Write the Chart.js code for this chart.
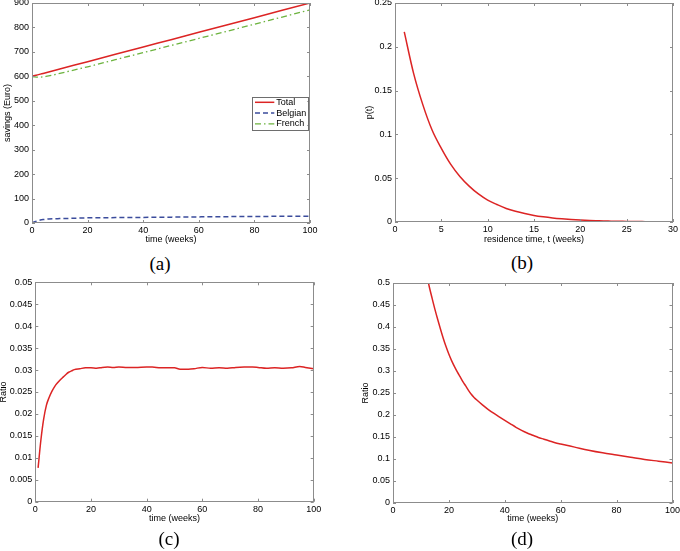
<!DOCTYPE html>
<html>
<head>
<meta charset="utf-8">
<script src="https://cdn.jsdelivr.net/npm/chart.js@4.4.1/dist/chart.umd.min.js"></script>
<style>
  html, body { margin:0; padding:0; background:#fff; width:680px; height:551px; overflow:hidden; position:relative; }
  canvas { position:absolute; }
  .cap { position:absolute; font-family:"Liberation Serif","Times New Roman",serif; font-size:19px; line-height:1; transform:translate(-50%,-50%); color:#000; white-space:nowrap; }
</style>
</head>
<body>
<canvas id="ca" width="350" height="250" style="left:-10px;top:0px;"></canvas>
<canvas id="cb" width="340" height="250" style="left:340px;top:0px;"></canvas>
<canvas id="cc" width="350" height="255" style="left:-10px;top:275px;"></canvas>
<canvas id="cd" width="340" height="255" style="left:340px;top:275px;"></canvas>
<div class="cap" style="left:160px;top:263px;">(a)</div>
<div class="cap" style="left:522px;top:262px;">(b)</div>
<div class="cap" style="left:169px;top:538px;">(c)</div>
<div class="cap" style="left:522px;top:538px;">(d)</div>
<script>
// ---------- DATA ----------
// (a) savings
const timeA = [0, 1, 2, 3, 4, 5, 6, 8, 10, 15, 20, 30, 40, 50, 60, 70, 80, 90, 100];
const totalA = [600, 603, 606, 609, 612, 615, 618, 624, 630, 645, 660, 690, 720, 750, 780, 810, 840, 870, 900];
const belgianA = [0, 5, 9, 12, 14, 15.5, 16.5, 17.5, 18, 19.5, 21, 22, 23, 24, 25, 26, 26.5, 27.5, 28];
const frenchA = [600, 598, 597, 597, 598, 599.5, 601.5, 606.5, 612, 625.5, 639, 668, 697, 726, 755, 784, 813.5, 842.5, 872];
const seriesNamesA = ['Total', 'Belgian', 'French'];

// (b) residence time distribution
const timeB = [1,2,3,4,5,6,7,8,9,10,11,12,13,14,15,16,17,18,19,20,21,22,23,24,25,26,27,28,29,30];
const pB = [0.217,0.170,0.134,0.105,0.084,0.066,0.052,0.041,0.032,0.025,0.020,0.0155,0.0122,0.0096,0.0075,
            0.0059,0.0046,0.0036,0.0028,0.0022,0.0017,0.0014,0.0011,0.0008,0.0007,0.0005,0.0004,0.0003,0.0003,0.0002];

// (c) ratio
const timeC = [1,2,3,4,5,6,7,8,9,10,11,12,13,14,16,18,20,22,24,26,28,30,33,36,40,42,45,48,50,52,55,57,60,63,66,69,72,75,78,80,83,86,89,92,95,97,100];
const ratioC = [0.0077,0.0140,0.0188,0.0220,0.0238,0.0252,0.0263,0.0271,0.0278,0.0284,0.0290,0.0295,0.0298,0.0301,0.0303,0.0305,0.0305,0.0304,0.0306,0.0307,0.0306,0.0307,0.0306,0.0306,0.0307,0.0307,0.0305,0.0305,0.0305,0.0302,0.0302,0.0303,0.0306,0.0304,0.0305,0.0304,0.0306,0.0307,0.0307,0.0306,0.0304,0.0305,0.0304,0.0305,0.0308,0.0306,0.0303];

// (d) ratio
const timeD = [12,13,14,15,16,17,18,19,20,21,22,23,24,25,26,27,28,29,30,32,34,36,38,40,42,44,46,48,50,52,54,56,58,60,65,70,75,80,85,90,95,100];
const ratioD = [0.52,0.491,0.465,0.440,0.417,0.395,0.374,0.355,0.338,0.323,0.310,0.298,0.287,0.276,0.266,0.256,0.247,0.240,0.234,0.223,0.213,0.204,0.196,0.188,0.180,0.172,0.165,0.159,0.154,0.149,0.145,0.141,0.137,0.134,0.127,0.120,0.114,0.109,0.104,0.099,0.095,0.091];

// tick settings
const xTicksA = {min:0, max:100, step:20};
const yTicksA = {min:0, max:900, step:100};
const xTicksB = {min:0, max:30, step:5};
const yTicksB = {min:0, max:0.25, step:0.05};
const xTicksC = {min:0, max:100, step:20};
const yTicksC = {min:0, max:0.05, step:0.005};
const xTicksD = {min:0, max:100, step:20};
const yTicksD = {min:0, max:0.5, step:0.05};

// ---------- HELPERS ----------
const FONT = "'Liberation Sans', Arial, Helvetica, sans-serif";
const pts = (xs, ys) => xs.map((x, i) => ({x, y: ys[i]}));
const fmt = v => String(+(+v).toFixed(4));

const frameTicks = {
  id: 'frameTicks',
  afterDraw(chart) {
    const {ctx, chartArea: a, scales} = chart;
    const len = 3;
    ctx.save();
    ctx.strokeStyle = '#8c8c8c';
    ctx.lineWidth = 1;
    ctx.beginPath();
    scales.x.ticks.forEach(t => {
      const px = Math.round(scales.x.getPixelForValue(t.value)) + 0.5;
      ctx.moveTo(px, a.bottom); ctx.lineTo(px, a.bottom - len);
      ctx.moveTo(px, a.top); ctx.lineTo(px, a.top + len);
    });
    scales.y.ticks.forEach(t => {
      const py = Math.round(scales.y.getPixelForValue(t.value)) + 0.5;
      ctx.moveTo(a.left, py); ctx.lineTo(a.left + len, py);
      ctx.moveTo(a.right, py); ctx.lineTo(a.right - len, py);
    });
    ctx.stroke();
    ctx.strokeRect(Math.round(a.left) + 0.5, Math.round(a.top) + 0.5,
                   Math.round(a.right) - Math.round(a.left) - 1, Math.round(a.bottom) - Math.round(a.top) - 1);
    ctx.restore();
  }
};

const boxLegend = {
  id: 'boxLegend',
  afterDraw(chart, args, o) {
    if (!o || !o.display) return;
    const {ctx, chartArea: a} = chart;
    const left = a.right - o.right - o.width;
    const top = a.top + o.top;
    ctx.save();
    ctx.fillStyle = '#fff';
    ctx.fillRect(left, top, o.width, o.height);
    ctx.strokeStyle = '#6e6e6e';
    ctx.lineWidth = 1;
    ctx.strokeRect(Math.round(left) + 0.5, Math.round(top) + 0.5, Math.round(o.width), Math.round(o.height));
    ctx.font = '9px ' + FONT;
    ctx.textBaseline = 'middle';
    ctx.textAlign = 'left';
    chart.data.datasets.forEach((ds, i) => {
      const cy = top + o.firstRow + i * o.rowH;
      ctx.beginPath();
      ctx.strokeStyle = ds.borderColor;
      ctx.lineWidth = ds.borderWidth;
      ctx.setLineDash(ds.borderDash || []);
      ctx.moveTo(left + o.sampleStart, cy);
      ctx.lineTo(left + o.sampleEnd, cy);
      ctx.stroke();
      ctx.setLineDash([]);
      ctx.fillStyle = '#000';
      ctx.fillText(ds.label, left + o.textStart, cy);
    });
    ctx.restore();
  }
};

function makeChart(id, datasets, xt, yt, xTitle, yTitle, geo, legendOpts) {
  const scaleCommon = (t, title, isY) => ({
    type: 'linear',
    min: t.min, max: t.max,
    grid: { display: false, drawTicks: false },
    border: { display: false },
    ticks: {
      stepSize: t.step,
      color: '#000',
      font: { family: FONT, size: 9 },
      padding: isY ? 3 : geo.xTickPad,
      maxRotation: 0,
      autoSkip: false,
      includeBounds: true,
      callback: v => fmt(v)
    },
    title: {
      display: true, text: title, color: '#000',
      font: { family: FONT, size: 9 },
      padding: isY ? { top: geo.yTitlePad, bottom: 0 } : { top: 0, bottom: geo.xTitlePad }
    },
    afterFit(scale) {
      if (isY) scale.width = geo.yw; else scale.height = geo.xh;
      scale.paddingTop = 0; scale.paddingBottom = 0; scale.paddingLeft = 0; scale.paddingRight = 0;
    }
  });
  return new Chart(document.getElementById(id), {
    type: 'line',
    data: { datasets },
    options: {
      responsive: false,
      animation: false,
      layout: { padding: { left: 0, top: geo.top, right: geo.right, bottom: 0 } },
      elements: { point: { radius: 0 }, line: { cubicInterpolationMode: 'monotone' } },
      plugins: {
        legend: { display: false },
        tooltip: { enabled: false },
        boxLegend: legendOpts || { display: false }
      },
      scales: {
        x: scaleCommon(xt, xTitle, false),
        y: scaleCommon(yt, yTitle, true)
      }
    },
    plugins: [frameTicks, boxLegend]
  });
}

const RED = '#dc2424';

// (a)
makeChart('ca', [
  { label: seriesNamesA[0], data: pts(timeA, totalA), borderColor: RED, borderWidth: 1.5 },
  { label: seriesNamesA[1], data: pts(timeA, belgianA), borderColor: '#3b4c9c', borderWidth: 1.5, borderDash: [5, 3] },
  { label: seriesNamesA[2], data: pts(timeA, frenchA), borderColor: '#6cb33e', borderWidth: 1.3, borderDash: [6, 3, 1.5, 3] }
], xTicksA, yTicksA, 'time (weeks)', 'savings (Euro)',
  { yw: 42, xh: 27, top: 3, right: 30, yTitlePad: 12.6, xTitlePad: 5.1, xTickPad: 2 },
  { display: true, right: 2.7, top: 93.7, width: 55.6, height: 33.3, firstRow: 5.6, rowH: 10.8, sampleStart: 3.3, sampleEnd: 22.6, textStart: 24.5 });

// (b)
makeChart('cb', [
  { label: 'p(t)', data: pts(timeB, pB), borderColor: RED, borderWidth: 1.5 }
], xTicksB, yTicksB, 'residence time, t (weeks)', 'p(t)',
  { yw: 55, xh: 28, top: 3, right: 7, yTitlePad: 24.6, xTitlePad: 5.1, xTickPad: 2 });

// (c)
makeChart('cc', [
  { label: 'Ratio', data: pts(timeC, ratioC), borderColor: RED, borderWidth: 1.5 }
], xTicksC, yTicksC, 'time (weeks)', 'Ratio',
  { yw: 45.3, xh: 28.3, top: 7.3, right: 26.3, yTitlePad: 8.6, xTitlePad: 5.6, xTickPad: 2 });

// (d)
makeChart('cd', [
  { label: 'Ratio', data: pts(timeD, ratioD), borderColor: RED, borderWidth: 1.5 }
], xTicksD, yTicksD, 'time (weeks)', 'Ratio',
  { yw: 53, xh: 27, top: 8, right: 7.5, yTitlePad: 20.6, xTitlePad: 6.1, xTickPad: 2 });
</script>
</body>
</html>
